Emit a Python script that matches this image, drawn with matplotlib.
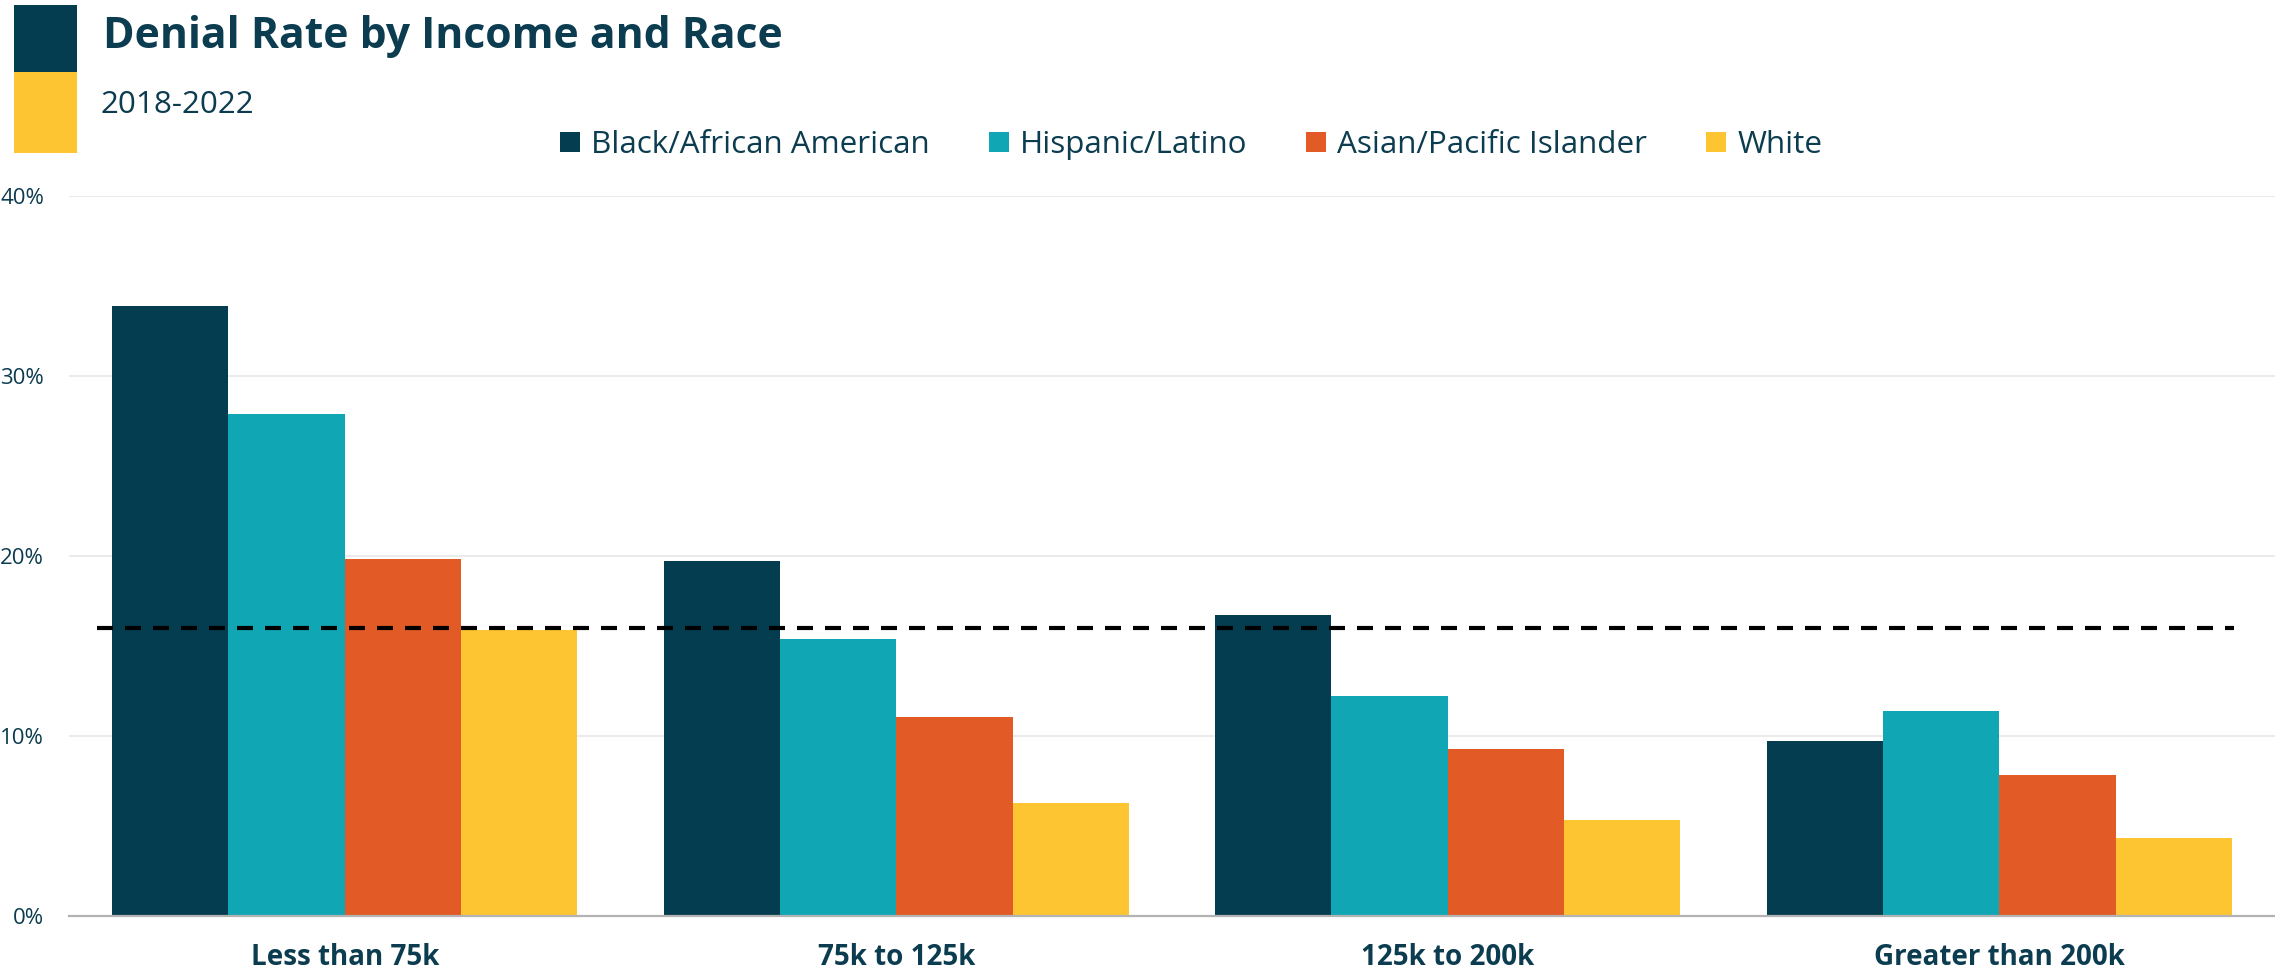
import matplotlib
matplotlib.use("Agg")
import matplotlib.pyplot as plt
import numpy as np
from matplotlib.patches import Rectangle, Patch

plt.rcParams['font.family'] = ['Open Sans', 'DejaVu Sans']

categories = ["Less than 75k", "75k to 125k", "125k to 200k", "Greater than 200k"]
series_names = ["Black/African American", "Hispanic/Latino", "Asian/Pacific Islander", "White"]
black = [33.9, 19.7, 16.7, 9.7]
hispanic = [27.9, 15.4, 12.2, 11.35]
asian = [19.8, 11.05, 9.25, 7.8]
white = [15.9, 6.25, 5.3, 4.3]
overall_rate = 16.0
y_ticks = [0, 10, 20, 30, 40]

colors = ["#033d4f", "#10a6b3", "#e25a26", "#fec532"]
text_color = "#0b3c4f"

fig = plt.figure(figsize=(22.75, 9.71), dpi=100)
ax = fig.add_axes([69 / 2275, 1 - 915.7 / 971, 1 - 69 / 2275, (915.7 - 195.7) / 971])

x = np.arange(len(categories))
width = 0.211
for i, (vals, col) in enumerate(zip([black, hispanic, asian, white], colors)):
    ax.bar(x + (i - 1.5) * width, vals, width, color=col, zorder=2)

# overall average line
ax.plot([-0.449, 3.426], [overall_rate, overall_rate], color="black", lw=3,
        dashes=(3.84, 2.88), zorder=3, solid_capstyle='butt', dash_capstyle='butt')

ax.set_xlim(-0.5, 3.5)
ax.set_ylim(0, 40)
ax.set_yticks(y_ticks)
ax.set_yticklabels([f"{v}%" for v in y_ticks], fontsize=16, color=text_color)
ax.set_xticks(x)
ax.set_xticklabels(categories, fontsize=20, fontweight='bold', color=text_color)
ax.tick_params(axis='y', length=0, pad=18)
ax.tick_params(axis='x', length=0, pad=20)
ax.yaxis.grid(True, color="#e5e5e5", lw=1.1, zorder=0)
ax.set_axisbelow(True)
for s in ["top", "right", "left"]:
    ax.spines[s].set_visible(False)
ax.spines["bottom"].set_color("#b3b3b3")
ax.spines["bottom"].set_linewidth(1.6)
ax.spines["bottom"].set_zorder(4)

# header blocks
fig.add_artist(Rectangle((14 / 2275, 1 - 71.7 / 971), 63.5 / 2275, 66.7 / 971,
                         transform=fig.transFigure, color=colors[0], lw=0))
fig.add_artist(Rectangle((14 / 2275, 1 - 152.7 / 971), 63.5 / 2275, 81 / 971,
                         transform=fig.transFigure, color=colors[3], lw=0))

fig.text(103 / 2275, 1 - 48 / 971, "Denial Rate by Income and Race", fontsize=30.7,
         fontweight='bold', color=text_color, va='baseline', ha='left')
fig.text(100 / 2275, 1 - 113 / 971, "2018-2022", fontsize=22.6, color=text_color,
         va='baseline', ha='left')

handles = [Patch(facecolor=c, edgecolor='none') for c in colors]
fig.legend(handles, series_names, loc='center left', bbox_to_anchor=(560 / 2275, 1 - 145 / 971),
           ncol=4, frameon=False, fontsize=22.6, handlelength=0.64, handleheight=0.64,
           handletextpad=0.35, columnspacing=1.88, borderpad=0, borderaxespad=0,
           labelcolor=text_color)

fig.savefig("out.png", dpi=100)
